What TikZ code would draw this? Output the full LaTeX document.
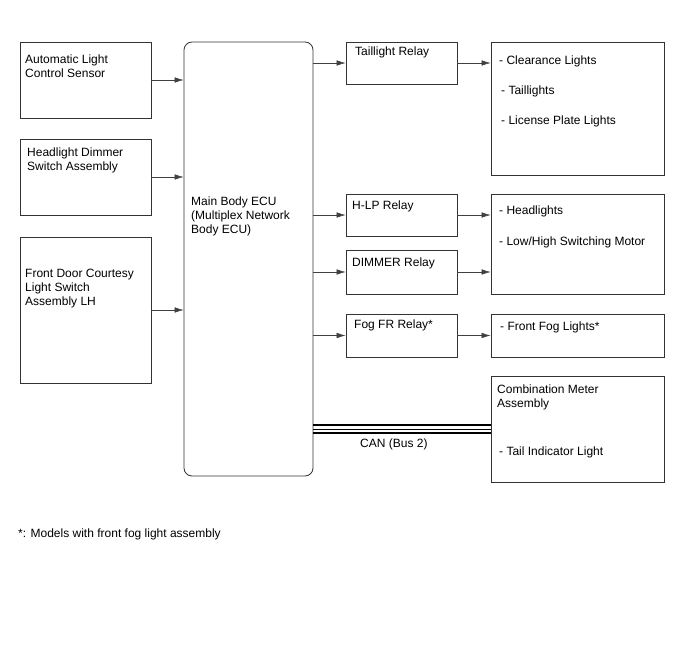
\documentclass[tikz,border=0pt]{standalone}
\usepackage{fontspec}
\setmainfont{Liberation Sans}
\usetikzlibrary{arrows.meta}
\begin{document}
\begin{tikzpicture}[x=1pt, y=-1pt,
  every node/.style={font=\fontsize{12}{14}\selectfont},
  blk/.style={draw=black!80, line width=0.8pt, inner sep=0pt},
  txt/.style={anchor=north west, inner sep=0pt, align=left},
  arr/.style={draw=black!75, line width=0.5pt, -{Latex[length=9pt,width=5.5pt]}},
  bus/.style={draw=black, line width=1.3pt}]
  \useasboundingbox (0,0) rectangle (688,658);
  % inputs
  \node[blk, minimum width=131, minimum height=76] (alc) at (85.5,80) {};
  \node[blk, minimum width=131, minimum height=76] (hds) at (85.5,177) {};
  \node[blk, minimum width=131, minimum height=146] (fdc) at (85.5,310) {};
  \node[txt] (alcT) at (25,55) {Automatic Light\\Control Sensor};
  \node[txt] (hdsT) at (27,148) {Headlight Dimmer\\Switch Assembly};
  \node[txt] (fdcT) at (25,269) {Front Door Courtesy\\Light Switch\\Assembly LH};
  % main body ECU
  \node[blk, rounded corners=8pt, minimum width=129, minimum height=434] (ecu) at (248.5,259) {};
  \node[txt] (ecuT) at (191,197) {Main Body ECU\\(Multiplex Network\\Body ECU)};
  % relays
  \node[blk, minimum width=111, minimum height=42] (tlr) at (401.5,63) {};
  \node[blk, minimum width=111, minimum height=42] (hlp) at (401.5,215) {};
  \node[blk, minimum width=111, minimum height=44] (dim) at (401.5,272) {};
  \node[blk, minimum width=111, minimum height=43] (fog) at (401.5,335.5) {};
  \node[txt] (tlrT) at (355,47) {Taillight Relay};
  \node[txt] (hlpT) at (352,201) {H-LP Relay};
  \node[txt] (dimT) at (352,258) {DIMMER Relay};
  \node[txt] (fogT) at (354,320) {Fog FR Relay*};
  % loads
  \node[blk, minimum width=173, minimum height=133] (clr) at (577.5,108.5) {};
  \node[blk, minimum width=173, minimum height=100] (hdl) at (577.5,244) {};
  \node[blk, minimum width=173, minimum height=43] (ffl) at (577.5,335.5) {};
  \node[blk, minimum width=173, minimum height=106] (cmb) at (577.5,429) {};
  \node[txt] (clrT) at (499,56) {- Clearance Lights};
  \node[txt] (tlT) at (501,86) {- Taillights};
  \node[txt] (lplT) at (501,116) {- License Plate Lights};
  \node[txt] (hdlT) at (499,206) {- Headlights};
  \node[txt] (lhsT) at (499,237) {- Low/High Switching Motor};
  \node[txt] (fflT) at (500,322) {- Front Fog Lights*};
  \node[txt] (cmbT) at (497,385) {Combination Meter\\Assembly};
  \node[txt] (tilT) at (499,447) {- Tail Indicator Light};
  % connectors
  \draw[arr] (alc.east) -- (alc.east -| ecu.west);
  \draw[arr] (hds.east) -- (hds.east -| ecu.west);
  \draw[arr] (fdc.east) -- (fdc.east -| ecu.west);
  \draw[arr] (ecu.east |- tlr.west) -- (tlr.west);
  \draw[arr] (ecu.east |- hlp.west) -- (hlp.west);
  \draw[arr] (ecu.east |- dim.west) -- (dim.west);
  \draw[arr] (ecu.east |- fog.west) -- (fog.west);
  \draw[arr] (tlr.east) -- (tlr.east -| clr.west);
  \draw[arr] (hlp.east) -- (hlp.east -| hdl.west);
  \draw[arr] (dim.east) -- (dim.east -| hdl.west);
  \draw[arr] (fog.east) -- (fog.east -| ffl.west);
  % CAN bus
  \draw[bus] ([yshift=4pt]ecu.east |- cmb.west) -- ([yshift=4pt]cmb.west);
  \draw[bus, line width=0.8pt] (ecu.east |- cmb.west) -- (cmb.west);
  \draw[bus] ([yshift=-4pt]ecu.east |- cmb.west) -- ([yshift=-4pt]cmb.west);
  \node[txt] (canT) at (360,439) {CAN (Bus 2)};
  \node[txt] (note) at (18,529) {*: Models with front fog light assembly};
\end{tikzpicture}
\end{document}
